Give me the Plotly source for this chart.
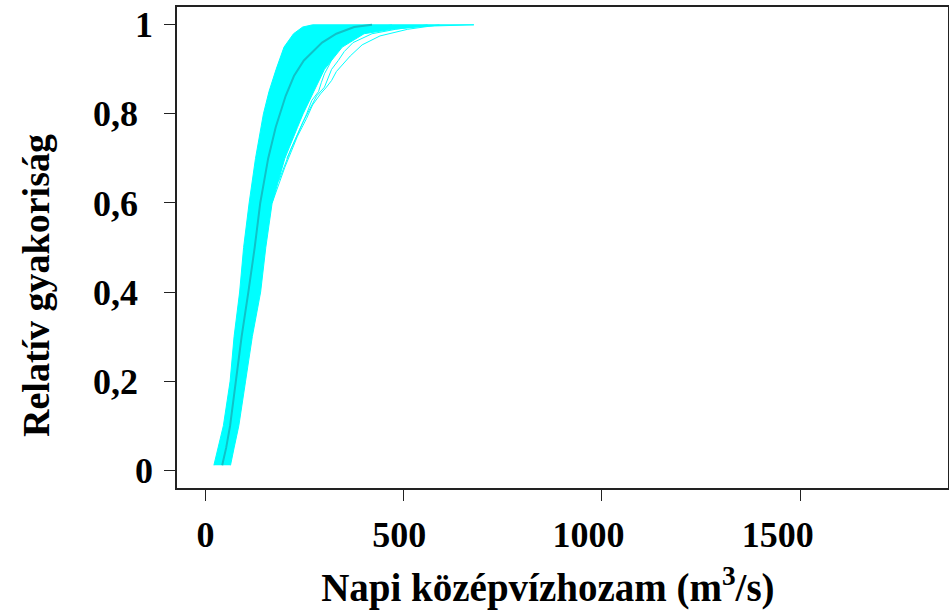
import plotly.graph_objects as go

# ---- data ----
# envelope of the ensemble of empirical CDF curves (left / right edge of the cyan band)
band_left_y = [0.011, 0.05, 0.1, 0.2, 0.3, 0.4, 0.5, 0.6, 0.7, 0.8, 0.85, 0.9, 0.95, 0.98, 0.995, 1.0]
band_left_x = [21, 32, 45, 62, 72, 86, 96, 110, 126, 146, 160, 178, 198, 222, 245, 270]

band_right_y = [0.011, 0.05, 0.1, 0.2, 0.3, 0.4, 0.5, 0.6, 0.7, 0.77, 0.8, 0.85, 0.9, 0.95, 0.98, 0.99, 0.997, 1.0]
band_right_x = [63, 72, 84, 101, 118, 139, 152, 168, 200, 232, 246, 273, 300, 345, 400, 470, 560, 677]

# a few individual ensemble members that stick out of the band on the right
out1_y = [0.60, 0.68, 0.75, 0.79, 0.82, 0.845, 0.86, 0.875, 0.895, 0.91, 0.93, 0.955, 0.975, 0.99, 1.0]
out1_x = [168, 200, 232, 255, 270, 290, 305, 318, 330, 345, 365, 395, 440, 510, 590]

out2_y = [0.65, 0.72, 0.78, 0.81, 0.84, 0.86, 0.88, 0.90, 0.92, 0.94, 0.96, 0.98, 0.99, 1.0]
out2_x = [185, 215, 245, 262, 280, 300, 310, 318, 335, 350, 372, 420, 480, 560]

out3_y = [0.70, 0.76, 0.80, 0.83, 0.85, 0.87, 0.89, 0.91, 0.93, 0.95, 0.97, 0.99, 1.0]
out3_x = [205, 236, 255, 268, 285, 292, 300, 312, 322, 338, 360, 410, 470]

# median curve
median_y = [0.011, 0.05, 0.1, 0.2, 0.3, 0.4, 0.5, 0.6, 0.7, 0.77, 0.8, 0.84, 0.885, 0.92, 0.96, 0.98, 0.995, 1.0]
median_x = [42, 52, 62, 77, 91, 108, 124, 138, 158, 177, 187, 202, 223, 248, 294, 330, 375, 420]

x_tickvals = [0, 500, 1000, 1500]
x_ticktext = ["0", "500&nbsp;", "1000&nbsp;&nbsp;&nbsp;", "1500&nbsp;&nbsp;&nbsp;&nbsp;&nbsp;"]
y_tickvals = [0, 0.2, 0.4, 0.6, 0.8, 1]
y_ticktext = ["0", "0,2&nbsp;\u2006", "0,4&nbsp;\u2006", "0,6&nbsp;\u2006", "0,8&nbsp;\u2006", "1"]

x_title = "Napi középvízhozam (m<sup>3</sup>/s)" + "&nbsp;" * 3
y_title = "Relatív gyakoriság" + "&nbsp;" * 8

CYAN = "#00FFFF"
TEAL = "#10C2C8"
FONT = "Liberation Serif"

fig = go.Figure()

fig.add_trace(go.Scatter(
    x=band_left_x + band_right_x[::-1],
    y=band_left_y + band_right_y[::-1],
    mode="lines", fill="toself", fillcolor=CYAN,
    line=dict(color=CYAN, width=1), hoverinfo="skip", showlegend=False))

for ox, oy in [(out1_x, out1_y), (out2_x, out2_y), (out3_x, out3_y)]:
    fig.add_trace(go.Scatter(x=ox, y=oy, mode="lines",
                             line=dict(color=CYAN, width=1), showlegend=False))

fig.add_trace(go.Scatter(x=median_x, y=median_y, mode="lines",
                         line=dict(color=TEAL, width=2), showlegend=False))

axis_common = dict(
    showgrid=False, zeroline=False, showline=True, mirror=True,
    linecolor="#222222", linewidth=1.5, automargin=False,
    ticks="outside", ticklen=11, tickwidth=1, tickcolor="#222222",
    tickfont=dict(family=FONT, size=36, color="black", weight="bold"),
)

fig.update_layout(
    width=949, height=610,
    margin=dict(l=177, r=1, t=7, b=122, autoexpand=False),
    paper_bgcolor="white", plot_bgcolor="white",
    xaxis=dict(
        range=[-72, 1873], tickmode="array", tickvals=x_tickvals, ticktext=x_ticktext,
        ticklabelstandoff=3,
        title=dict(text=x_title, standoff=26,
                   font=dict(family=FONT, size=39, color="black", weight="bold")),
        **axis_common),
    yaxis=dict(
        range=[-0.04, 1.04], tickmode="array", tickvals=y_tickvals, ticktext=y_ticktext,
        ticklabelstandoff=4,
        title=dict(text=y_title, standoff=32,
                   font=dict(family=FONT, size=38, color="black", weight="bold")),
        **axis_common),
)

fig.write_html(
    "out.html",
    config={"displayModeBar": False},
    post_script="document.body.style.margin='0';document.body.style.overflow='hidden';",
)
